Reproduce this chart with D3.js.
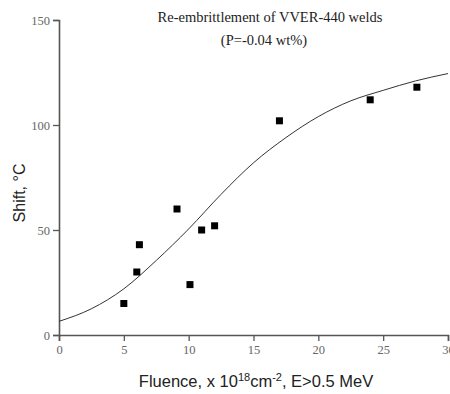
<!DOCTYPE html>
<html>
<head>
<meta charset="utf-8">
<script src="https://cdn.jsdelivr.net/npm/d3@7"></script>
<style>
  body { margin: 0; background: #fff; }
  svg { display: block; }
</style>
</head>
<body>
<svg id="chart" width="450" height="394"></svg>
<script>
// measured points
const fluence = [5, 6, 6.2, 9.1, 10.1, 11, 12, 17, 24, 27.6];
const shift = [15, 30, 43, 60, 24, 50, 52, 102, 112, 118];

// fitted trend line
const curveX = [0, 2.5, 5, 7.5, 10, 12.5, 15, 17.5, 20, 22.5, 25, 27.5, 30];
const curveY = [6.5, 12.5, 22, 35.5, 50.5, 67, 82, 94, 104, 111.5, 116.5, 121, 124.5];

const xTicks = [0, 5, 10, 15, 20, 25, 30];
const yTicks = [0, 50, 100, 150];

const svg = d3.select("#chart");
const margin = { left: 59, right: 2, top: 20, bottom: 59 };
const width = 450, height = 394;

const x = d3.scaleLinear().domain([0, 30]).range([margin.left, width - margin.right]);
const y = d3.scaleLinear().domain([0, 150]).range([height - margin.bottom, margin.top]);

const axisColor = "#555";
const serif = "'Liberation Serif', 'DejaVu Serif', serif";
const sans = "'Liberation Sans', Arial, sans-serif";

// x axis
const gx = svg.append("g").attr("transform", `translate(0,${y(0)})`);
gx.call(d3.axisBottom(x).tickValues(d3.range(0, 30.1, 2.5)).tickSize(3).tickFormat(""));
gx.call(d3.axisBottom(x).tickValues(xTicks).tickSize(6).tickPadding(4).tickFormat(d3.format("d")));

// y axis
const gy = svg.append("g").attr("transform", `translate(${x(0)},0)`);
gy.call(d3.axisLeft(y).tickValues(d3.range(0, 150.1, 25)).tickSize(3).tickFormat(""));
gy.call(d3.axisLeft(y).tickValues(yTicks).tickSize(6).tickPadding(3).tickFormat(d3.format("d")));

svg.selectAll(".domain").attr("stroke", axisColor).attr("stroke-width", 1.6);
svg.selectAll(".tick line").attr("stroke", axisColor).attr("stroke-width", 1.3);
svg.selectAll(".tick text")
  .attr("fill", "#666")
  .style("font-family", serif)
  .style("font-size", "12.5px");

// trend curve
const line = d3.line()
  .x(d => x(d[0]))
  .y(d => y(d[1]))
  .curve(d3.curveMonotoneX);

svg.append("path")
  .datum(curveX.map((v, i) => [v, curveY[i]]))
  .attr("d", line)
  .attr("fill", "none")
  .attr("stroke", "#333")
  .attr("stroke-width", 1);

// square markers
const sz = 7;
svg.append("g").selectAll("rect")
  .data(fluence.map((v, i) => [v, shift[i]]))
  .join("rect")
  .attr("x", d => x(d[0]) - sz / 2)
  .attr("y", d => y(d[1]) - sz / 2)
  .attr("width", sz)
  .attr("height", sz)
  .attr("fill", "#000");

// title
const title = svg.append("g")
  .style("font-family", serif)
  .style("font-size", "14.5px")
  .attr("fill", "#222")
  .attr("text-anchor", "middle");
title.append("text").attr("x", 270).attr("y", 22).text("Re-embrittlement of VVER-440 welds");
title.append("text").attr("x", 264).attr("y", 45).text("(P=-0.04 wt%)");

// axis labels
svg.append("text")
  .attr("transform", "translate(25,193) rotate(-90)")
  .attr("text-anchor", "middle")
  .style("font-family", sans)
  .style("font-size", "16px")
  .attr("fill", "#222")
  .text("Shift, °C");

const xl = svg.append("text")
  .attr("x", 256)
  .attr("y", 387)
  .attr("text-anchor", "middle")
  .style("font-family", sans)
  .style("font-size", "16.5px")
  .attr("fill", "#222");
xl.append("tspan").text("Fluence, x 10");
xl.append("tspan").attr("dy", -6).style("font-size", "11px").text("18");
xl.append("tspan").attr("dy", 6).text("cm");
xl.append("tspan").attr("dy", -6).style("font-size", "11px").text("-2");
xl.append("tspan").attr("dy", 6).text(", E>0.5 MeV");
</script>
</body>
</html>
